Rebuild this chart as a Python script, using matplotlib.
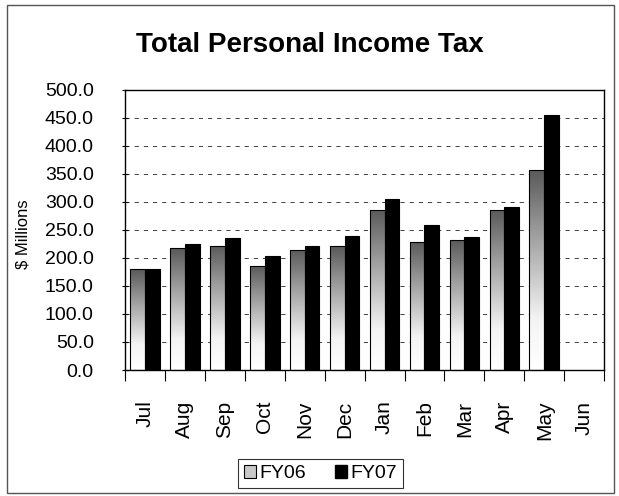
import matplotlib
matplotlib.use("Agg")
import matplotlib.pyplot as plt
import numpy as np
from matplotlib.colors import LinearSegmentedColormap
from matplotlib.patches import Rectangle

months = ['Jul', 'Aug', 'Sep', 'Oct', 'Nov', 'Dec',
          'Jan', 'Feb', 'Mar', 'Apr', 'May', 'Jun']
fy06 = [180, 217, 222, 186, 215, 221, 286, 229, 232, 286, 357]
fy07 = [180, 225, 236, 204, 221, 240, 305, 258, 237, 290, 455]
yticks = [0, 50, 100, 150, 200, 250, 300, 350, 400, 450, 500]

FONT = ['Liberation Sans Narrow', 'Liberation Sans', 'DejaVu Sans']
plt.rcParams['font.family'] = FONT

fig = plt.figure(figsize=(6.19, 4.96), dpi=100)
ax = fig.add_axes([0.202, 0.254, 0.774, 0.565])

# outer frame of the chart
fig.patches.append(Rectangle((0.011, 0.006), 0.981, 0.984, transform=fig.transFigure,
                             fill=False, edgecolor='#555555', linewidth=1.0))

grad = LinearSegmentedColormap.from_list('g', [(0.0, 'white'), (0.25, '#f4f4f4'),
                                               (0.7, '#9a9a9a'), (1.0, '#5a5a5a')])
w = 0.37
x = np.arange(len(fy06))
bars06 = ax.bar(x - w / 2, fy06, w, facecolor='none', edgecolor='black', linewidth=0.8, zorder=3)
for b in bars06:
    x0, y0 = b.get_x(), b.get_y()
    img = ax.imshow(np.linspace(0, 1, 100).reshape(-1, 1), cmap=grad, origin='lower',
                    extent=(x0, x0 + b.get_width(), y0, y0 + b.get_height()),
                    aspect='auto', zorder=2)
    img.set_clip_path(b)
ax.bar(x + w / 2, fy07, w, color='black', edgecolor='black', linewidth=0.8, zorder=3)

ax.set_xlim(-0.5, 11.5)
ax.set_ylim(0, 500)
ax.set_yticks(yticks)
ax.set_yticklabels(['%.1f' % v for v in yticks], fontsize=14)
ax.tick_params(axis='y', direction='inout', length=5, width=0.8, pad=20)

ax.set_xticks(np.arange(12))
ax.set_xticklabels(months, rotation=90, fontsize=15, va='top')
ax.set_xticks(np.arange(-0.5, 12, 1), minor=True)
ax.tick_params(axis='x', which='major', length=0, pad=22)
ax.tick_params(axis='x', which='minor', length=8, width=0.8, direction='out')

for v in yticks[1:-1]:
    ax.axhline(v, color='#222222', linestyle=(0, (5, 6)), linewidth=0.6, zorder=1)

for s in ax.spines.values():
    s.set_linewidth(1.0)

ax.set_ylabel('$ Millions', fontsize=12)
ax.yaxis.set_label_coords(-0.198, 0.486)
fig.text(0.5, 0.91, 'Total Personal Income Tax', ha='center', va='center',
         fontsize=20, fontweight='bold')

h06 = Rectangle((0, 0), 1, 1, facecolor='#c8c8c8', edgecolor='black', linewidth=0.8)
h07 = Rectangle((0, 0), 1, 1, facecolor='black', edgecolor='black')
leg = fig.legend([h06, h07], ['FY06', 'FY07'], loc='center', bbox_to_anchor=(0.518, 0.045),
                 ncol=2, fontsize=14, frameon=True, fancybox=False, edgecolor='black',
                 handlelength=0.6, handleheight=0.6, handletextpad=0.2, columnspacing=1.5,
                 borderpad=0.3)
leg.get_frame().set_linewidth(0.8)

fig.savefig('out.png', dpi=100)
